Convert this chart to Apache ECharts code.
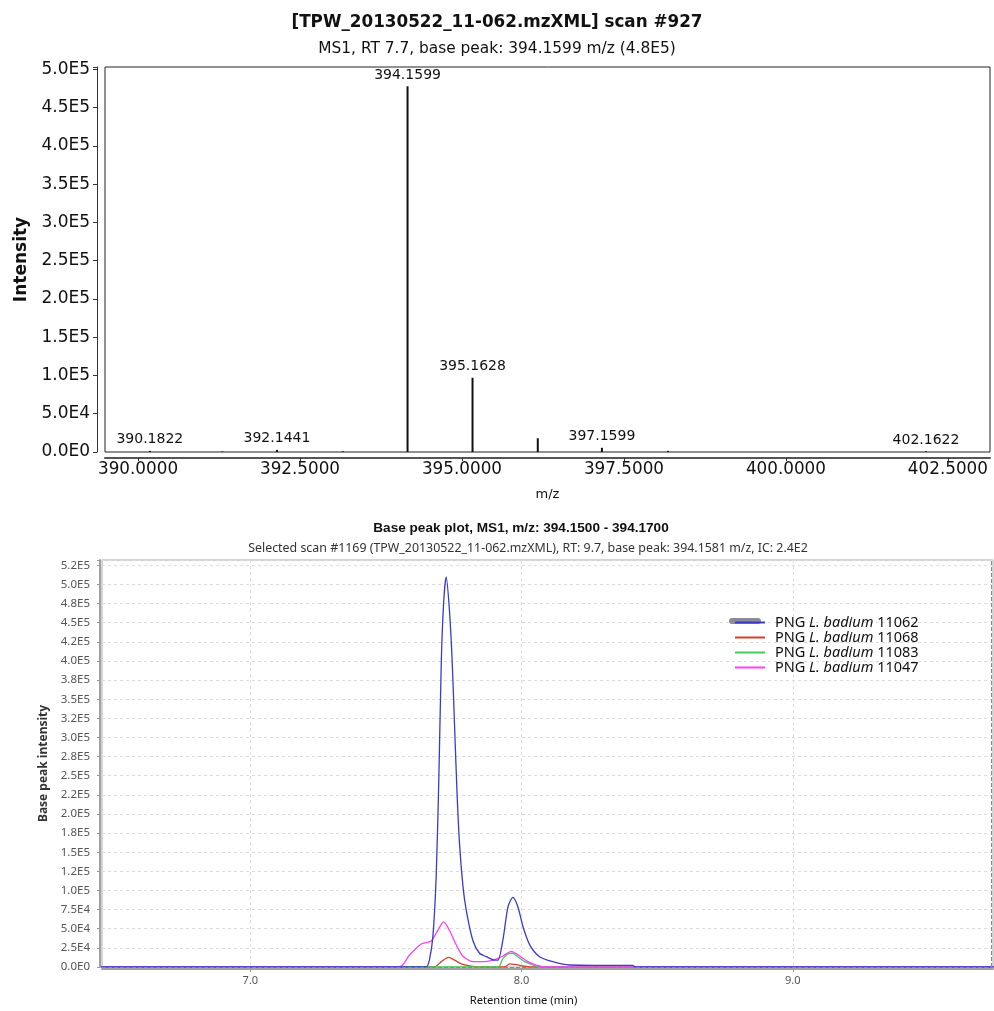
<!DOCTYPE html>
<html>
<head>
<meta charset="utf-8">
<script src="https://cdn.jsdelivr.net/npm/echarts@6/dist/echarts.min.js"></script>
<style>
  html, body { margin: 0; padding: 0; background: #fff; }
  #chart { width: 994px; height: 1011px; }
</style>
</head>
<body>
<div id="chart"></div>
<script>
// ---- Mass spectrum (scan #927) ----
const specTitle = '[TPW_20130522_11-062.mzXML] scan #927';
const specSubtitle = 'MS1, RT 7.7, base peak: 394.1599 m/z (4.8E5)';
const peakMz        = [390.1822, 391.30, 392.1441, 393.16, 394.1599, 395.1628, 396.17, 397.1599, 398.18, 402.1622];
const peakIntensity = [1500,     700,    2800,     900,    478000,   97000,    18000,  5500,     1500,   900];
const peakLabeled   = [true,     false,  true,     false,  true,     true,     false,  true,     false,  true];
const specXTicks = [390, 392.5, 395, 397.5, 400, 402.5];
const specYTickLabels = ['0.0E0', '5.0E4', '1.0E5', '1.5E5', '2.0E5', '2.5E5', '3.0E5', '3.5E5', '4.0E5', '4.5E5', '5.0E5'];

// ---- Base peak chromatogram, m/z 394.15 - 394.17 ----
const bpTitle = 'Base peak plot, MS1, m/z: 394.1500 - 394.1700';
const bpSubtitle = 'Selected scan #1169 (TPW_20130522_11-062.mzXML), RT: 9.7, base peak: 394.1581 m/z, IC: 2.4E2';
const strainPrefix = 'PNG';
const strainSpecies = 'L. badium';
const strainIds = ['11062', '11068', '11083', '11047'];
const strainColors = ['#3a3acb', '#d2402c', '#3fcf5a', '#ff3cff'];

const rt11062  = [6.45, 7.60, 7.648, 7.66, 7.673, 7.685, 7.695, 7.704, 7.713, 7.722, 7.734, 7.744, 7.753, 7.762, 7.771, 7.784, 7.796, 7.820, 7.845, 7.870, 7.900, 7.913, 7.931, 7.950, 7.968, 7.986, 8.005, 8.030, 8.066, 8.115, 8.177, 8.30, 8.41, 8.42, 9.74];
const int11062 = [0,    0,    0,     9000, 40000, 118000, 248000, 400000, 479000, 510000, 466000, 400000, 314000, 227000, 162000, 105000, 74000, 35000, 18000, 13500, 9000, 9000, 35000, 79000, 91000, 79000, 53000, 29000, 13500, 7000, 2600, 2200, 2000, 0, 0];

const rt11068  = [6.45, 7.679, 7.704, 7.731, 7.753, 7.778, 7.808, 7.845, 7.937, 7.956, 7.980, 8.005, 8.030, 9.74];
const int11068 = [0,    0,     7000,  12600, 9000,  4000,  1500,  0,     0,     4000,  3000,  1300,  0,     0];

const rt11083  = [6.45, 7.913, 7.931, 7.950, 7.966, 7.986, 8.011, 8.042, 8.066, 9.74];
const int11083 = [0,    0,     11000, 17000, 18000, 13500, 7000,  2600,  0,     0];

const rt11047  = [6.45, 7.55, 7.587, 7.630, 7.667, 7.691, 7.713, 7.734, 7.759, 7.783, 7.820, 7.857, 7.894, 7.931, 7.962, 7.993, 8.023, 8.054, 8.090, 9.74];
const int11047 = [0,    0,    15600, 30000, 34000, 48000, 59000, 48000, 29000, 14400, 7000,  7000,  9000,  14400, 20500, 14400, 7000,  2600,  0,     0];

const bpXTicks = [7.0, 8.0, 9.0];
const bpYTickLabels = ['0.0E0', '2.5E4', '5.0E4', '7.5E4', '1.0E5', '1.2E5', '1.5E5', '1.8E5', '2.0E5', '2.2E5', '2.5E5',
                       '2.8E5', '3.0E5', '3.2E5', '3.5E5', '3.8E5', '4.0E5', '4.2E5', '4.5E5', '4.8E5', '5.0E5', '5.2E5'];
const selectedRt = 9.727;

const traces = [
  [rt11062, int11062],
  [rt11068, int11068],
  [rt11083, int11083],
  [rt11047, int11047]
];

function tickLabel(labels, step) {
  return function (v) {
    const i = Math.round(v / step);
    if (Math.abs(v - i * step) > 1e-6 * step) return '';
    return labels[i] !== undefined ? labels[i] : '';
  };
}

const seriesName = id => strainPrefix + ' ' + strainSpecies + ' ' + id;

const chart = echarts.init(document.getElementById('chart'), null, { renderer: 'canvas' });

const spectrumSeries = {
  type: 'bar',
  xAxisIndex: 0,
  yAxisIndex: 0,
  barWidth: 2,
  itemStyle: { color: '#111' },
  label: {
    show: false,
    position: 'top',
    distance: 4,
    color: '#111',
    fontFamily: 'DejaVu Sans',
    fontSize: 14,
    formatter: p => p.value[0].toFixed(4)
  },
  data: peakMz.map((mz, i) => ({
    value: [mz, peakIntensity[i]],
    label: { show: peakLabeled[i] }
  })),
  z: 3
};

const traceSeries = traces.map((t, k) => {
  const s = {
    type: 'line',
    name: seriesName(strainIds[k]),
    xAxisIndex: 1,
    yAxisIndex: 1,
    symbol: 'none',
    smooth: 0.25,
    lineStyle: { color: strainColors[k], width: 1.3 },
    itemStyle: { color: strainColors[k] },
    data: t[0].map((x, i) => [x, t[1][i]]),
    z: 3 + (k === 0 ? 1 : 0)
  };
  if (k === 0) {
    // zero baseline and the selected-scan retention time marker
    s.markLine = {
      silent: true,
      symbol: 'none',
      z: 6,
      label: { show: false },
      lineStyle: { type: 'dashed', color: '#8a8a8a', width: 1 },
      data: [{ yAxis: 0 }, { xAxis: selectedRt }]
    };
  }
  return s;
});

const option = {
  backgroundColor: '#fff',
  animation: false,
  title: [
    { text: specTitle, left: 'center', top: 9,
      textStyle: { fontFamily: 'DejaVu Sans', fontSize: 16.8, fontWeight: 'bold', color: '#111' } },
    { text: specSubtitle, left: 'center', top: 36,
      textStyle: { fontFamily: 'DejaVu Sans', fontSize: 15.4, fontWeight: 'normal', color: '#111' } },
    { text: bpTitle, left: 516, textAlign: 'center', top: 516,
      textStyle: { fontFamily: 'Liberation Sans', fontSize: 13.6, fontWeight: 'bold', color: '#111' } },
    { text: bpSubtitle, left: 523, textAlign: 'center', top: 537,
      textStyle: { fontFamily: 'Noto Sans', fontSize: 12.4, fontWeight: 'normal', color: '#333' } }
  ],
  grid: [
    { left: 105, top: 67, width: 885, height: 385, show: true,
      borderColor: '#222', borderWidth: 1, backgroundColor: '#fff', containLabel: false },
    { left: 102, top: 560, width: 891, height: 407, show: true,
      borderColor: '#a8a8a8', borderWidth: 1, backgroundColor: '#fff', containLabel: false }
  ],
  legend: {
    orient: 'vertical',
    left: 730,
    top: 610,
    icon: 'rect',
    itemWidth: 30,
    itemHeight: 2,
    itemGap: 0,
    z: 6,
    data: strainIds.map(seriesName),
    formatter: name => {
      const id = name.split(' ').pop();
      return '{n|' + strainPrefix + ' }{i|' + strainSpecies + '}{n| ' + id + '}';
    },
    textStyle: {
      color: '#111',
      padding: [0, 0, 0, 5],
      rich: {
        n: { fontFamily: 'Noto Sans', fontSize: 14.5, color: '#111', lineHeight: 15 },
        i: { fontFamily: 'Noto Sans', fontSize: 14.5, fontStyle: 'italic', color: '#111', lineHeight: 15 }
      }
    }
  },
  graphic: [
    { type: 'rect', z: 1, left: 729, top: 618, shape: { width: 32, height: 6, r: 3 },
      style: { fill: '#8c8c98' } }
  ],
  xAxis: [
    {
      type: 'value', gridIndex: 0,
      min: 389.49, max: 403.15,
      offset: 6,
      name: 'm/z', nameLocation: 'middle', nameGap: 30,
      nameTextStyle: { fontFamily: 'DejaVu Sans', fontSize: 13, color: '#111' },
      axisLine: { show: true, onZero: false, lineStyle: { color: '#555', width: 2 } },
      axisTick: { show: true, customValues: specXTicks, length: 3, lineStyle: { color: '#333' } },
      axisLabel: { customValues: specXTicks, formatter: v => v.toFixed(4), margin: 3,
        fontFamily: 'DejaVu Sans', fontSize: 16.8, color: '#111' },
      splitLine: { show: false }
    },
    {
      type: 'value', gridIndex: 1,
      min: 6.453, max: 9.738,
      offset: 2,
      name: 'Retention time (min)', nameLocation: 'middle', nameGap: 26,
      nameTextStyle: { fontFamily: 'Noto Sans', fontSize: 11.2, color: '#111', padding: [0, 48, 0, 0] },
      axisLine: { show: true, onZero: false, lineStyle: { color: '#a0a0a0', width: 2 } },
      axisTick: { show: true, customValues: bpXTicks, length: 3, lineStyle: { color: '#999' } },
      axisLabel: { customValues: bpXTicks, formatter: v => v.toFixed(1), margin: 6,
        fontFamily: 'Noto Sans', fontSize: 11, color: '#555' },
      splitLine: { show: true, lineStyle: { type: [3, 3], color: '#dcdcdc', width: 1 } }
    }
  ],
  yAxis: [
    {
      type: 'value', gridIndex: 0,
      min: 0, max: 503000, interval: 50000,
      offset: 8,
      name: 'Intensity', nameLocation: 'middle', nameGap: 66, nameRotate: 90,
      nameTextStyle: { fontFamily: 'DejaVu Sans', fontSize: 17, fontWeight: 'bold', color: '#111' },
      axisLine: { show: true, lineStyle: { color: '#333', width: 1 } },
      axisTick: { show: true, length: 4, lineStyle: { color: '#333' } },
      axisLabel: { formatter: tickLabel(specYTickLabels, 50000), margin: 7,
        fontFamily: 'DejaVu Sans', fontSize: 17, color: '#111' },
      splitLine: { show: false }
    },
    {
      type: 'value', gridIndex: 1,
      min: 0, max: 532000, interval: 25000,
      offset: 2,
      name: 'Base peak intensity', nameLocation: 'middle', nameGap: 44, nameRotate: 90,
      nameTextStyle: { fontFamily: 'Noto Sans', fontSize: 12, fontWeight: 'bold', color: '#333' },
      axisLine: { show: true, lineStyle: { color: '#a0a0a0', width: 2 } },
      axisTick: { show: true, length: 3, lineStyle: { color: '#999' } },
      axisLabel: { formatter: tickLabel(bpYTickLabels, 25000), margin: 10,
        fontFamily: 'Noto Sans', fontSize: 11.5, color: '#555' },
      splitLine: { show: true, lineStyle: { type: [3, 3], color: '#dcdcdc', width: 1 } }
    }
  ],
  series: [spectrumSeries].concat(traceSeries)
};

chart.setOption(option);
</script>
</body>
</html>
